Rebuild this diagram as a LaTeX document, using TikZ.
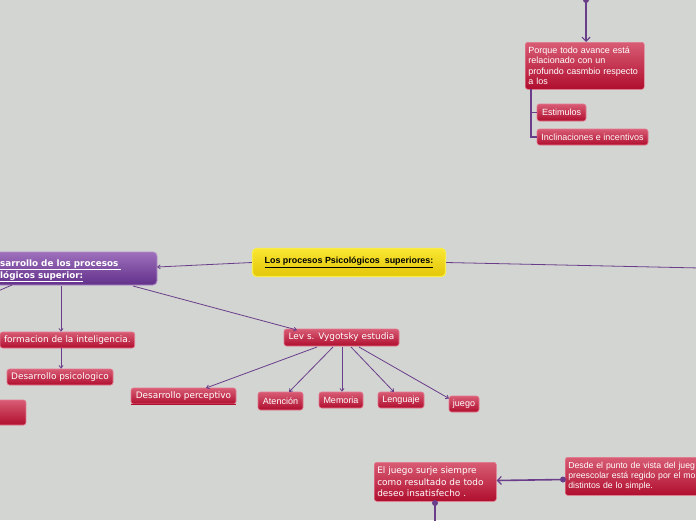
\documentclass[tikz,border=0pt]{standalone}
\usepackage{fontspec}
\setmainfont{Liberation Sans}
\newfontfamily\dvs{DejaVu Sans}
\usetikzlibrary{arrows.meta}
\definecolor{bg}{RGB}{211,213,210}
\definecolor{edgec}{RGB}{106,61,138}
\definecolor{rtop}{RGB}{216,92,116}
\definecolor{rbot}{RGB}{176,14,46}
\definecolor{rbord}{RGB}{228,120,142}
\definecolor{ytop}{RGB}{250,230,50}
\definecolor{ybot}{RGB}{226,198,8}
\definecolor{ybord}{RGB}{248,236,70}
\definecolor{ptop}{RGB}{158,112,188}
\definecolor{pbot}{RGB}{98,48,138}
\definecolor{pbord}{RGB}{176,140,200}
\tikzset{
  rbox/.style={rounded corners=2.5pt, top color=rtop, bottom color=rbot, draw=rbord,
    line width=0.6pt, text=white, inner sep=0pt, font=\fontsize{9}{10.6}\selectfont},
  vbox/.style={rbox, font=\dvs\fontsize{8.9}{11}\selectfont},
  conn/.style={draw=edgec, line width=0.8pt, -{Straight Barb[length=2.6pt,width=4pt]}},
  thick conn/.style={draw=edgec, line width=1.6pt},
  openarr/.style={thick conn, -{Straight Barb[length=4pt,width=8pt,line width=1.2pt]}},
  dotc/.style={circle, fill=edgec, inner sep=0pt, minimum size=6pt},
}
\begin{document}
\begin{tikzpicture}[x=1pt,y=-1pt]
\useasboundingbox (0,0) rectangle (696,520);
\fill[bg] (0,0) rectangle (696,520);
\clip (0,0) rectangle (696,520);

% central
\node[rounded corners=4pt, top color=ytop, bottom color=ybot, draw=ybord, line width=1.2pt,
  minimum width=193pt, minimum height=28pt, inner sep=0pt,
  font=\bfseries\fontsize{8.9}{10}\selectfont] (c) at (349,262.5)
  {\underline{Los procesos Psicológicos\ \ superiores:}};

% purple
\node[rounded corners=4pt, top color=ptop, bottom color=pbot, draw=pbord, line width=0.8pt,
  minimum width=180pt, minimum height=33pt, inner sep=0pt] (p) at (67,268.5) {};
\node[anchor=west, align=left, text=white, inner sep=0pt,
  font=\dvs\bfseries\fontsize{8.8}{12}\selectfont] (pt) at (0,271)
  {\underline{sarrollo de los procesos\ }\\\underline{lógicos superior:}};

% red nodes
\node[vbox, anchor=east, minimum height=16pt, inner xsep=4pt] (f) at (135,340)
  {formacion de la inteligencia.};
\node[vbox, minimum width=106pt, minimum height=16pt] (dps) at (60,377) {Desarrollo psicologico};
\node[rbox, minimum width=50pt, minimum height=25pt] (lp) at (1,412.5) {};
\node[vbox, minimum width=115pt, minimum height=17pt] (lev) at (341.5,337.5) {Lev s. Vygotsky estudia};
\node[vbox, minimum width=105pt, minimum height=16pt] (dpe) at (183.5,396) {Desarrollo perceptivo};
\draw[rbot, line width=0.8pt] (dpe.south west) -- (dpe.south east);
\node[rbox, minimum width=45pt, minimum height=18pt] (at) at (280.5,401) {Atención};
\node[rbox, minimum width=44pt, minimum height=16pt] (me) at (341,400) {Memoria};
\node[rbox, minimum width=46pt, minimum height=16pt] (le) at (401,400) {Lenguaje};
\node[rbox, minimum width=30pt, minimum height=16pt] (ju) at (464,404) {juego};

\node[rbox, anchor=north west, minimum width=119pt, minimum height=47pt, align=left,
  text width=113pt, inner xsep=3pt] (pq) at (525,42)
  {Porque todo avance está\\relacionado con un\\profundo casmbio respecto\\a los};
\node[rbox, minimum width=49pt, minimum height=17pt] (es) at (561.5,112.5) {Estimulos};
\node[rbox, minimum width=111pt, minimum height=16pt] (in) at (592.5,137) {Inclinaciones e incentivos};

\node[vbox, anchor=north west, minimum width=122pt, minimum height=39pt, align=left,
  text width=116pt, inner xsep=3pt, font=\dvs\fontsize{8.9}{11.6}\selectfont] (ej) at (374,462)
  {El juego surje siempre\\como resultado de todo\\deseo insatisfecho .};
\node[rbox, anchor=north west, minimum width=160pt, minimum height=38pt, align=left,
  text width=154pt, inner xsep=3pt, font=\fontsize{8.7}{10.3}\selectfont] (de) at (565,457)
  {Desde el punto de vista del jueg\\preescolar está regido por el mo\\distintos de lo simple.};

% coordinates
\coordinate (cr) at (700,268);
\coordinate (pl) at (-2,291);
\coordinate (tp) at (586,-4);
\coordinate (bt) at (435,524);

% connectors
\draw[conn] (c.west) -- (157,267);
\draw[draw=edgec, line width=0.8pt] (c.east) -- (cr);
\draw[conn] (133,286) -- (297,330);
\draw[conn] (61,286) -- (f.north -| 61,0);
\draw[draw=edgec, line width=0.8pt] (12,285) -- (pl);
\draw[conn] (61,348) -- (dps.north -| 61,0);
\draw[conn] (317,347) -- (206,388);
\draw[conn] (333,347) -- (289,392);
\draw[conn] (342,347) -- (me.north -| 342,0);
\draw[conn] (351,347) -- (394,392);
\draw[conn] (359,347) -- (449,398.5);

% top-right
\draw[openarr] (tp) -- (pq.north -| 586,0);
\node[dotc] (d1) at (586,0) {};
\draw[thick conn] (531,89) |- (in.west);
\draw[thick conn] (531,112.5) -- (es.west);

% bottom
\draw[openarr] (de.west |- 0,479.5) -- (ej.east |- 0,480.5);
\node[dotc] (d2) at (563,479.5) {};
\draw[thick conn] (435,502) -- (bt);
\node[dotc] (d3) at (435,503) {};
\end{tikzpicture}
\end{document}
